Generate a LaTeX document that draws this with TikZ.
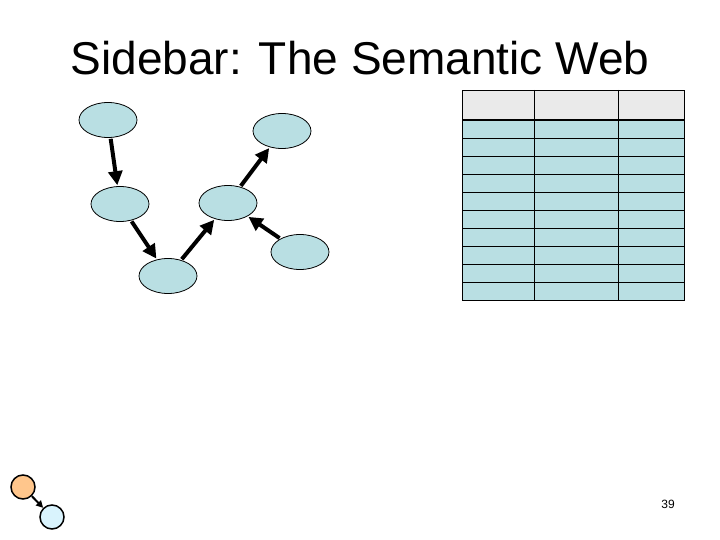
\documentclass[tikz,border=0pt]{standalone}
\usepackage{fontspec}
\setmainfont{Liberation Sans}
\usetikzlibrary{arrows.meta,shapes.geometric}
\definecolor{lb}{HTML}{B9DFE3}
\definecolor{hd}{HTML}{EAEAEA}
\begin{document}
\begin{tikzpicture}[x=1pt,y=-1pt,
  nd/.style={draw=black,fill=lb,ellipse,minimum width=58pt,minimum height=35pt,inner sep=0pt,line width=0.8pt},
  ar/.style={line width=4pt,-{Triangle[length=14pt,width=14pt]},shorten >=1pt,shorten <=1pt}]
\useasboundingbox (0,0) rectangle (720,540);
\node[font=\fontsize{46}{50}\selectfont] (title) at (360,58) {Sidebar: The Semantic Web};
\node[nd] (a) at (108,120) {};
\node[nd] (b) at (282,131) {};
\node[nd] (c) at (120,204) {};
\node[nd] (d) at (228,203) {};
\node[nd] (e) at (300,252) {};
\node[nd] (f) at (168,276) {};
\draw[ar] (a) -- (c);
\draw[ar] (c) -- (f);
\draw[ar] (f) -- (d);
\draw[ar] (d) -- (b);
\draw[ar] (e) -- (d);
% table
\fill[hd] (462,90) rectangle (684,120);
\fill[lb] (462,120) rectangle (684,300);
\foreach \y in {138,156,...,282} \draw[line width=0.7pt] (462,\y) -- (684,\y);
\draw[line width=0.7pt] (462,90) rectangle (684,300);
\draw[line width=0.7pt] (534,90) -- (534,300) (618,90) -- (618,300);
\draw[line width=2pt] (462,120) -- (684,120);
% icon
\node[draw,circle,fill=orange!45,minimum size=24pt,inner sep=0pt,line width=1.5pt] (o) at (23,487) {};
\node[draw,circle,fill=cyan!15,minimum size=24pt,inner sep=0pt,line width=1.5pt] (p) at (52,517) {};
\draw[line width=2pt,-{Triangle[length=7pt,width=7pt]}] (o) -- (p);
\node[font=\fontsize{12}{14}\selectfont] (num) at (668,504) {39};
\end{tikzpicture}
\end{document}
